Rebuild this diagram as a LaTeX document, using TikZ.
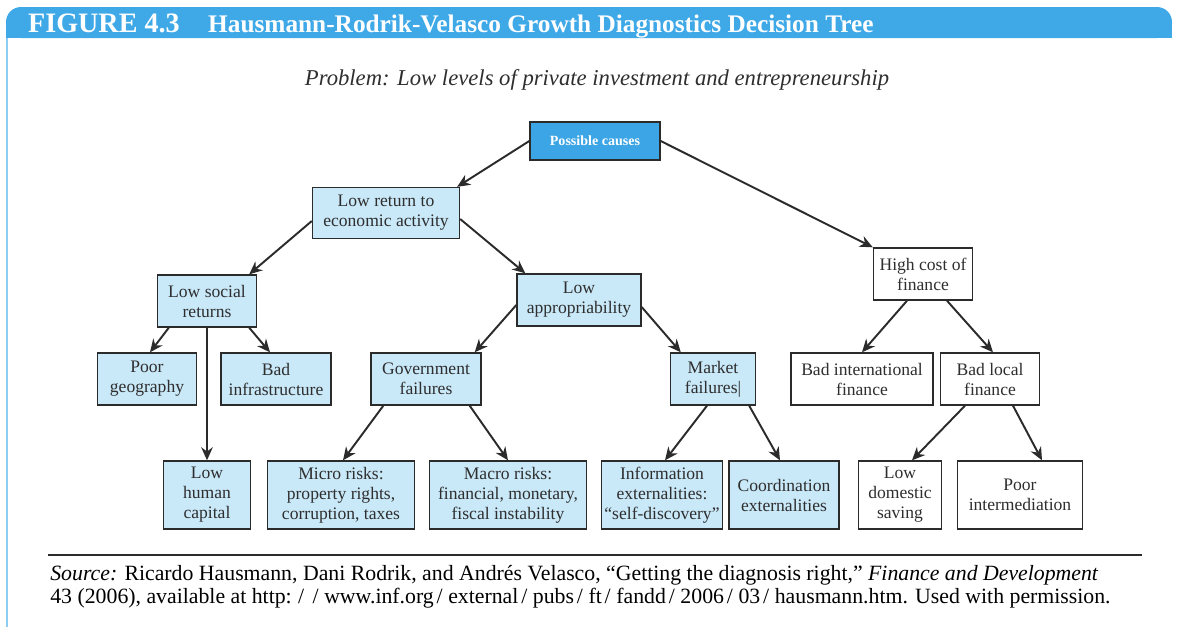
\documentclass[tikz,border=0pt]{standalone}
\usepackage{fontspec}
\setmainfont{Liberation Serif}
\usetikzlibrary{arrows.meta}

\definecolor{hdrblue}{HTML}{3FA9E8}
\definecolor{rimblue}{HTML}{8ECDF1}
\definecolor{causeblue}{HTML}{3BA5E5}
\definecolor{paleblue}{HTML}{C9E8F8}
\definecolor{boxline}{HTML}{2B2B2B}
\definecolor{txtgray}{HTML}{2E2E2E}

\newcommand{\urlsl}{\kern1.6pt/\kern3.2pt}

\tikzset{
  cbox/.style={draw=boxline, line width=0.8pt, fill=paleblue, align=center, inner sep=1pt,
    text=txtgray, font=\fontsize{10}{11.4}\selectfont, minimum height=1.04cm},
  wbox/.style={cbox, fill=white},
  tallbox/.style={cbox, minimum height=1.36cm},
  causebox/.style={cbox, fill=causeblue, text=white, font=\bfseries\fontsize{8}{9}\selectfont, minimum height=0.76cm},
  arr/.style={draw=boxline, line width=1.1pt, -{Stealth[length=2.6mm,width=2.3mm]}}
}

\begin{document}
\begin{tikzpicture}[x=0.02cm, y=-0.02cm]
  \useasboundingbox (0,0) rectangle (1178,627);

  % cadre et bandeau
  \draw[rimblue, line width=1.6pt] (7,30) -- (7,627);
  \fill[hdrblue, rounded corners=0.3cm] (6,7) rectangle (1172,38);
  \fill[hdrblue] (6,22) rectangle (1172,38);
  \node[anchor=base west, text=white, font=\bfseries\fontsize{16}{18}\selectfont] (fig) at (22,32) {FIGURE 4.3};
  \node[anchor=base west, text=white, font=\bfseries\fontsize{14.4}{17}\selectfont] (title) at (202,32) {Hausmann-Rodrik-Velasco Growth Diagnostics Decision Tree};

  % probleme
  \node[font=\itshape\fontsize{12.9}{15}\selectfont, text=txtgray] (prob) at (597,80) {Problem: Low levels of private investment and entrepreneurship};

  % noeuds
  \node[causebox, minimum width=2.6cm] (cause) at (595,141) {Possible causes};
  \node[cbox, minimum width=2.94cm, minimum height=1.02cm] (lowret) at (386,213) {Low return to\\economic activity};
  \node[wbox, minimum width=1.98cm] (highcost) at (923,274) {High cost of\\finance};
  \node[cbox, minimum width=1.98cm] (lowsoc) at (207,301) {Low social\\returns};
  \node[cbox, minimum width=2.48cm] (lowapp) at (579,300) {Low\\appropriability};
  \node[cbox, minimum width=1.98cm] (poorgeo) at (147,379) {Poor\\geography};
  \node[cbox, minimum width=2.2cm] (badinf) at (276,379) {Bad\\infrastructure};
  \node[cbox, minimum width=2.2cm] (govfail) at (426,379) {Government\\failures};
  \node[cbox, minimum width=1.7cm] (mktfail) at (713,379) {Market\\failures|};
  \node[wbox, minimum width=2.84cm] (badintl) at (862,379) {Bad international\\finance};
  \node[wbox, minimum width=1.98cm] (badloc) at (990,379) {Bad local\\finance};
  \node[tallbox, minimum width=1.74cm] (lowhum) at (207,495) {Low\\human\\capital};
  \node[tallbox, minimum width=2.94cm] (micro) at (341,495) {Micro risks:\\property rights,\\corruption, taxes};
  \node[tallbox, minimum width=3.14cm] (macro) at (508,495) {Macro risks:\\financial, monetary,\\fiscal instability};
  \node[tallbox, minimum width=2.42cm] (info) at (662,495) {Information\\externalities:\\“self-discovery”};
  \node[tallbox, minimum width=2.2cm] (coord) at (784,495) {Coordination\\externalities};
  \node[tallbox, fill=white, minimum width=1.66cm] (lowdom) at (900,495) {Low\\domestic\\saving};
  \node[tallbox, fill=white, minimum width=2.5cm] (poorint) at (1020,495) {Poor\\intermediation};

  % fleches
  \draw[arr] (cause.west) -- ([xshift=-0.06cm]lowret.north east);
  \draw[arr] (cause.east) -- (highcost.north west);
  \draw[arr] ([yshift=-0.16cm]lowret.west) -- ([xshift=-0.16cm]lowsoc.north east);
  \draw[arr] ([yshift=-0.12cm]lowret.east) -- ([xshift=0.18cm]lowapp.north west);
  \draw[arr] ([xshift=0.24cm]lowsoc.south west) -- ([xshift=0.06cm]poorgeo.north);
  \draw[arr] ([xshift=-0.16cm]lowsoc.south east) -- ([xshift=-0.12cm]badinf.north);
  \draw[arr] (lowsoc.south) -- (lowhum.north);
  \draw[arr] ([yshift=-0.1cm]lowapp.west) -- ([xshift=-0.14cm]govfail.north east);
  \draw[arr] ([yshift=-0.14cm]lowapp.east) -- ([xshift=0.22cm]mktfail.north west);
  \draw[arr] ([xshift=0.26cm]govfail.south west) -- ([xshift=0.04cm]micro.north);
  \draw[arr] ([xshift=-0.24cm]govfail.south east) -- (macro.north);
  \draw[arr] ([xshift=-0.12cm]mktfail.south) -- ([xshift=0.06cm]info.north);
  \draw[arr] ([xshift=-0.14cm]mktfail.south east) -- ([xshift=-0.08cm]coord.north);
  \draw[arr] ([xshift=-0.32cm]highcost.south) -- (badintl.north);
  \draw[arr] ([xshift=0.48cm]highcost.south) -- ([xshift=0.06cm]badloc.north);
  \draw[arr] ([xshift=-0.5cm]badloc.south) -- ([xshift=0.24cm]lowdom.north);
  \draw[arr] ([xshift=0.46cm]badloc.south) -- ([xshift=0.44cm]poorint.north);

  % source
  \draw[boxline, line width=1.2pt] (48,555) -- (1142,555);
  \node[anchor=base west, font=\fontsize{12.4}{14}\selectfont, inner sep=0pt] (src1) at (50,580)
    {\textit{Source:} Ricardo Hausmann, Dani Rodrik, and Andrés Velasco, “Getting the diagnosis right,” \textit{Finance and Development}};
  \node[anchor=base west, font=\fontsize{12.4}{14}\selectfont, inner sep=0pt] (src2) at (50,603)
    {43 (2006), available at http:\kern2pt\urlsl\urlsl www.inf.org\urlsl external\urlsl pubs\urlsl ft\urlsl fandd\urlsl 2006\urlsl 03\urlsl hausmann.htm. Used with permission.};
\end{tikzpicture}
\end{document}
